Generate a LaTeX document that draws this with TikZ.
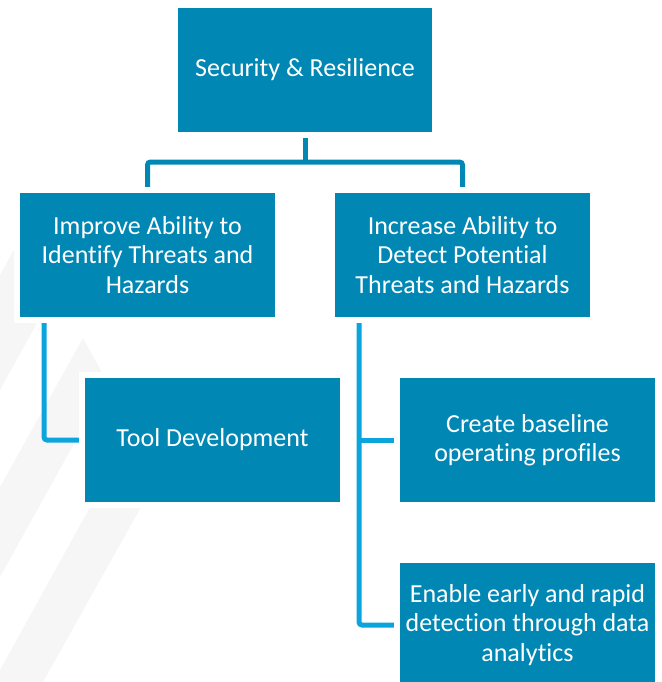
\documentclass[tikz,border=0pt]{standalone}
\usepackage{fontspec}
\setmainfont{Carlito}[Ligatures=NoCommon]
\definecolor{boxblue}{HTML}{0087B4}
\definecolor{linkblue}{HTML}{0AA5DC}
\definecolor{chevron}{HTML}{F6F6F6}
\pgfdeclarelayer{back}
\pgfdeclarelayer{links}
\pgfsetlayers{back,links,main}

\begin{document}
\begin{tikzpicture}[x=1pt,y=-1pt,
  goal/.style={fill=boxblue, draw=white, line width=6pt,
    minimum width=261pt, minimum height=130pt, inner sep=0pt,
    text=white, align=center, font=\fontsize{26}{29.3}\selectfont},
  trunk/.style={draw=boxblue, line width=5pt, rounded corners=3pt},
  branch/.style={draw=linkblue, line width=5pt, rounded corners=3pt},
  stripe/.style={fill=chevron, draw=none}]
\useasboundingbox (0,0) rectangle (661,682);

% goal boxes
\node[goal, minimum width=260pt] (root) at (305,70) {Security \& Resilience};
\node[goal] (identify) at (147.5,255) {Improve Ability to\\Identify Threats and\\Hazards};
\node[goal] (detect) at (462.5,255) {Increase Ability to\\Detect Potential\\Threats and Hazards};
\node[goal] (tool) at (212.5,440) {Tool Development};
\node[goal] (baseline) at (527.5,440) {Create baseline\\operating profiles};
\node[goal] (analytics) at (527.5,625) {Enable early and rapid\\detection through data\\analytics};

% faint chevron bands in the background
\begin{pgfonlayer}{back}
  \fill[stripe] (0,275) -- (41,200) -- (105,200) -- (0,390) -- cycle;
  \fill[stripe] (0,487) -- (83,338) -- (130,423) -- (95,406) -- (0,577) -- cycle;
  \fill[stripe] (94,500) -- (145,500) -- (43,682) -- (0,682) -- (0,670) -- cycle;
\end{pgfonlayer}

% connectors
\begin{pgfonlayer}{links}
  \coordinate (hub) at (305,162);
  \draw[trunk] (root.south) -- (hub);
  \draw[trunk] (identify.north) |- (hub) -| (detect.north);
  \coordinate (lspine) at ([xshift=-103.5pt]identify.south);
  \draw[branch] (lspine) |- (tool.west);
  \coordinate (rspine) at ([xshift=-103.5pt]detect.south);
  \draw[branch] (rspine) |- (analytics.west);
  \draw[branch] (rspine |- baseline.west) -- (baseline.west);
\end{pgfonlayer}
\end{tikzpicture}
\end{document}
